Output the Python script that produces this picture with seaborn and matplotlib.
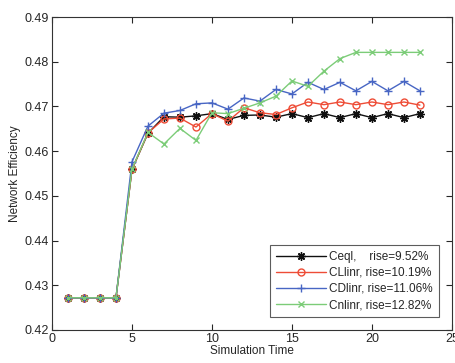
import seaborn as sns
import matplotlib
matplotlib.use("Agg")
import matplotlib.pyplot as plt
import pandas as pd

sns.set_style("ticks")
plt.rcParams['font.family'] = ['Liberation Sans', 'DejaVu Sans']

sim_time = list(range(1, 24))

ceql = [0.4272, 0.4272, 0.4272, 0.4272, 0.4559, 0.4640, 0.4677, 0.4676, 0.4679, 0.4684,
        0.4671, 0.4680, 0.4681, 0.4676, 0.4684, 0.4675, 0.4684, 0.4675, 0.4684, 0.4675,
        0.4684, 0.4675, 0.4684]
cllinr = [0.4272, 0.4272, 0.4272, 0.4272, 0.4559, 0.4641, 0.4672, 0.4674, 0.4654, 0.4684,
          0.4667, 0.4697, 0.4686, 0.4682, 0.4697, 0.4710, 0.4704, 0.4710, 0.4704, 0.4710,
          0.4704, 0.4710, 0.4703]
cdlinr = [0.4272, 0.4272, 0.4272, 0.4272, 0.4576, 0.4656, 0.4685, 0.4691, 0.4706, 0.4708,
          0.4694, 0.4719, 0.4712, 0.4738, 0.4728, 0.4754, 0.4738, 0.4754, 0.4735, 0.4756,
          0.4735, 0.4756, 0.4735]
cnlinr = [0.4272, 0.4272, 0.4272, 0.4272, 0.4560, 0.4642, 0.4616, 0.4651, 0.4624, 0.4686,
          0.4684, 0.4696, 0.4708, 0.4723, 0.4757, 0.4745, 0.4779, 0.4807, 0.4821, 0.4821,
          0.4821, 0.4821, 0.4821]

labels = ['Ceql,    rise=9.52%', 'CLlinr, rise=10.19%', 'CDlinr, rise=11.06%', 'Cnlinr, rise=12.82%']
series = [ceql, cllinr, cdlinr, cnlinr]
colors = ['#101010', '#ee4c36', '#4866c4', '#7ccc78']
markers = [(8, 2, 0), 'o', '+', 'x']
msizes = [6, 5, 6, 4.5]

rows = []
for lab, vals in zip(labels, series):
    for t, v in zip(sim_time, vals):
        rows.append({'Simulation Time': t, 'Network Efficiency': v, 'method': lab})
df = pd.DataFrame(rows)

fig = plt.figure(figsize=(4.56, 3.63), dpi=100)
ax = fig.add_axes([0.114, 0.091, 0.877, 0.862])

for lab, c, m, ms in zip(labels, colors, markers, msizes):
    sub = df[df.method == lab]
    mfc = 'none' if m == 'o' else c
    sns.lineplot(data=sub, x='Simulation Time', y='Network Efficiency', ax=ax,
                 color=c, marker=m, markersize=ms,
                 markerfacecolor=mfc, markeredgecolor=c, markeredgewidth=1.0,
                 linewidth=1.0, label=lab)

ax.set_xlim(0, 25)
ax.set_ylim(0.42, 0.49)
ax.set_xticks([0, 5, 10, 15, 20, 25])
ax.set_yticks([0.42, 0.43, 0.44, 0.45, 0.46, 0.47, 0.48, 0.49])
ax.tick_params(direction='in', top=True, right=True, labelsize=9, length=4, width=0.8, pad=2)
for s in ax.spines.values():
    s.set_linewidth(0.8)
    s.set_color('#333333')
ax.set_xlabel('Simulation Time', fontsize=8.5, labelpad=0)
ax.set_ylabel('Network Efficiency', fontsize=8.5, labelpad=3)

leg = ax.legend(loc='lower right', fontsize=8.5, frameon=True, fancybox=False,
                edgecolor='#333333', borderaxespad=1.1, handlelength=4.2,
                labelspacing=0.35, borderpad=0.5, handletextpad=0.3)
leg.get_frame().set_linewidth(0.8)

fig.savefig('out.png', dpi=100)
